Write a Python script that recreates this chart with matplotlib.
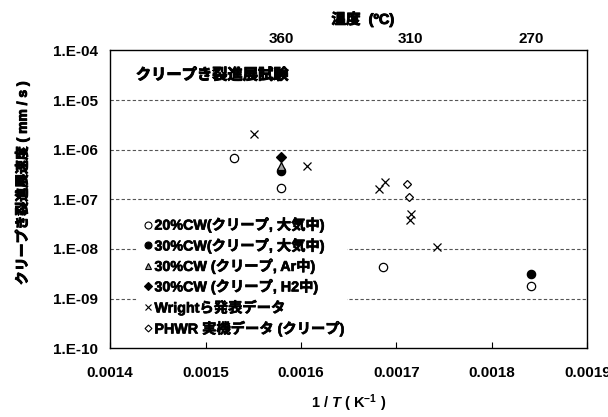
import matplotlib
matplotlib.use("Agg")
import matplotlib.pyplot as plt
import matplotlib.patheffects as pe
from matplotlib.lines import Line2D
from matplotlib.patches import Rectangle

plt.rcParams['font.family'] = ['Liberation Sans', 'Noto Sans CJK JP']
plt.rcParams['font.weight'] = 'bold'
plt.rcParams['mathtext.fontset'] = 'custom'
plt.rcParams['mathtext.rm'] = 'Liberation Sans:bold'
plt.rcParams['mathtext.it'] = 'Liberation Sans:bold:italic'
plt.rcParams['mathtext.bf'] = 'Liberation Sans:bold'

# 1/T (1/K) and crack growth rate (mm/s)
cw20_air_x = [0.00153, 0.001579, 0.001686, 0.001841]
cw20_air_y = [6.8e-7, 1.7e-7, 4.3e-9, 1.8e-9]

cw30_air_x = [0.001579, 0.001841]
cw30_air_y = [3.8e-7, 3.1e-9]

cw30_ar_x = [0.001579]
cw30_ar_y = [4.8e-7]

cw30_h2_x = [0.001579]
cw30_h2_y = [7.2e-7]

wright_x = [0.001551, 0.001606, 0.001682, 0.001688, 0.001715, 0.001714, 0.001742]
wright_y = [2.12e-6, 4.7e-7, 1.58e-7, 2.24e-7, 5.0e-8, 3.8e-8, 1.1e-8]

phwr_x = [0.001711, 0.001713]
phwr_y = [2.08e-7, 1.12e-7]

series_labels = [
    "20%CW(クリープ, 大気中)",
    "30%CW(クリープ, 大気中)",
    "30%CW (クリープ, Ar中)",
    "30%CW (クリープ, H2中)",
    "Wrightら発表データ",
    "PHWR 実機データ (クリープ)",
]

x_ticks = [0.0014, 0.0015, 0.0016, 0.0017, 0.0018, 0.0019]
x_ticklabels = ["0.0014", "0.0015", "0.0016", "0.0017", "0.0018", "0.0019"]
y_ticks = [1e-10, 1e-9, 1e-8, 1e-7, 1e-6, 1e-5, 1e-4]
y_ticklabels = ["1.E-10", "1.E-09", "1.E-08", "1.E-07", "1.E-06", "1.E-05", "1.E-04"]

temps_c = [360, 310, 270]
temp_labels = ["360", "310", "270"]

# heavier strokes for the Gothic glyphs
heavy = [pe.withStroke(linewidth=0.7, foreground='black')]

fig = plt.figure(figsize=(6.08, 4.17), dpi=100)
ax = fig.add_axes([0.181, 0.165, 0.785, 0.714])

ax.set_yscale('log')
ax.set_xlim(0.0014, 0.0019)
ax.set_ylim(1e-10, 1e-4)

for yv in [1e-9, 1e-8, 1e-7, 1e-6, 1e-5]:
    ax.axhline(yv, color='#555555', lw=0.8, ls=(0, (3, 2)), zorder=1)

# white panel under the legend
ax.add_patch(Rectangle((0.0586, 0.02), 0.4376, 0.453, transform=ax.transAxes,
                       facecolor='white', edgecolor='none', zorder=1.5))

ms = 6
ax.plot(cw20_air_x, cw20_air_y, ls='none', marker='o', ms=ms, mfc='white', mec='black', mew=0.9, zorder=3)
ax.plot(cw30_air_x, cw30_air_y, ls='none', marker='o', ms=ms, mfc='black', mec='black', mew=0.9, zorder=3)
ax.plot(cw30_ar_x, cw30_ar_y, ls='none', marker='^', ms=ms, mfc='#a0a0a0', mec='black', mew=0.9, zorder=4)
ax.plot(cw30_h2_x, cw30_h2_y, ls='none', marker='D', ms=5, mfc='black', mec='black', mew=0.9, zorder=5)
ax.plot(wright_x, wright_y, ls='none', marker='x', ms=6, color='black', mew=0.9, zorder=3)
ax.plot(phwr_x, phwr_y, ls='none', marker='D', ms=4, mfc='white', mec='black', mew=0.9, zorder=3)

ax.set_xticks(x_ticks)
ax.set_xticklabels(x_ticklabels, fontsize=11, fontweight='bold')
ax.set_yticks(y_ticks)
ax.set_yticklabels(y_ticklabels, fontsize=11, fontweight='bold')
ax.minorticks_off()
ax.tick_params(axis='x', direction='in', length=4, width=0.8, pad=12.5)
ax.tick_params(axis='y', direction='in', length=0, width=0.8, pad=8.6)
for s in ax.spines.values():
    s.set_linewidth(1.0)
    s.set_color('black')

ax.set_xlabel("1 / $T$ ( K$^{-1}$ )", fontsize=10.5, fontweight='bold')
ax.xaxis.set_label_coords(0.5, -0.185)
ax.xaxis.label.set_va('center')
ax.set_ylabel("クリープき裂進展速度 ( mm / s )", fontsize=10, fontweight='bold')
ax.yaxis.set_label_coords(-0.184, 0.554)
ax.yaxis.label.set_va('center')
ax.yaxis.label.set_path_effects(heavy)

top = ax.secondary_xaxis('top')
top.set_xticks([1.0 / (t + 273.15) for t in temps_c])
top.set_xticklabels(temp_labels, fontsize=11, fontweight='bold')
top.tick_params(length=0, pad=3)
top.spines['top'].set_visible(False)
top.set_xlabel("温度  (ºC)", fontsize=10.5, fontweight='bold', labelpad=6, x=0.53)
top.xaxis.label.set_path_effects(heavy)

ax.text(0.054, 0.917, "クリープき裂進展試験", transform=ax.transAxes,
        fontsize=11, fontweight='bold', va='center', ha='left', path_effects=heavy)

handles = [
    Line2D([], [], ls='none', marker='o', ms=5, mfc='white', mec='black', mew=0.8),
    Line2D([], [], ls='none', marker='o', ms=5, mfc='black', mec='black', mew=0.8),
    Line2D([], [], ls='none', marker='^', ms=5, mfc='#a0a0a0', mec='black', mew=0.8),
    Line2D([], [], ls='none', marker='D', ms=4.5, mfc='black', mec='black', mew=0.8),
    Line2D([], [], ls='none', marker='x', ms=5, color='black', mew=0.8),
    Line2D([], [], ls='none', marker='D', ms=3.5, mfc='white', mec='black', mew=0.8),
]
leg = ax.legend(handles, series_labels, loc='upper left', bbox_to_anchor=(0.0705, 0.44),
                borderaxespad=0, frameon=False, handlelength=0.6,
                handletextpad=0.15, labelspacing=0.38, borderpad=0,
                prop={'size': 10.3, 'weight': 'bold'})
leg.set_zorder(2)
for t in leg.get_texts():
    t.set_path_effects([pe.withStroke(linewidth=0.5, foreground='black')])

fig.savefig("out.png", dpi=100)
